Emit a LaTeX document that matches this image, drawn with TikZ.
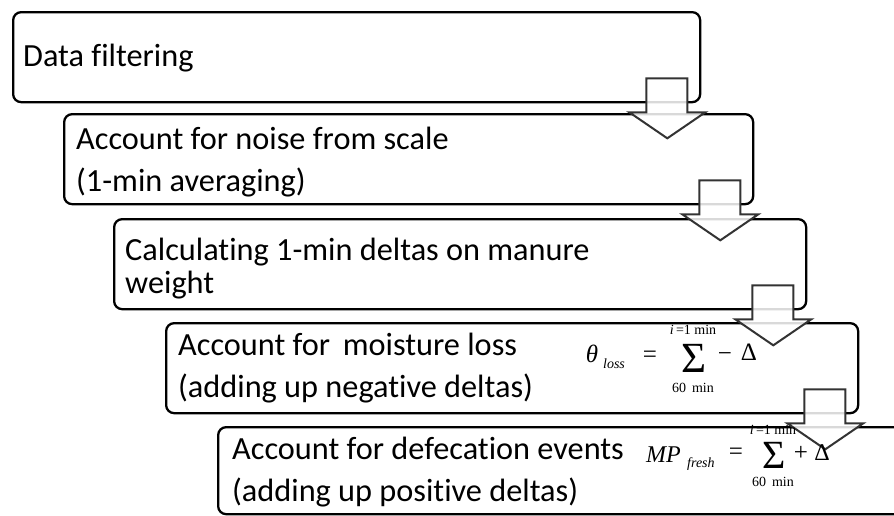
\documentclass[tikz,border=0pt]{standalone}
\usepackage{fontspec}
\setmainfont{Carlito}[Ligatures=NoCommon]
\newfontfamily\tms{Liberation Serif}
\usetikzlibrary{calc}
\tikzset{
  stepbox/.style={draw=black, line width=2.3pt, rounded corners=8pt, inner sep=0pt, anchor=north west},
  steptext/.style={anchor=base west, inner sep=0pt, font=\fontsize{32.3}{38}\selectfont},
  blockarrow/.style={draw=black!80, line width=2pt, fill=white, fill opacity=0.85, line join=miter},
  eqbig/.style={inner sep=0pt, font=\tms\fontsize{25}{30}\selectfont},
  eqsub/.style={inner sep=0pt, font=\tms\fontsize{14}{16}\selectfont},
  eqsum/.style={inner sep=0pt, font=\tms\fontsize{43}{46}\selectfont}
}
\newcommand\stepdown[1]{%
  \draw[blockarrow] ($(#1.south east)+(-55,-25)$) -- ($(#1.south east)+(-14,-25)$)
    -- ($(#1.south east)+(-14,9)$) -- ($(#1.south east)+(4,9)$)
    -- ($(#1.south east)+(-34,35)$) -- ($(#1.south east)+(-72,9)$)
    -- ($(#1.south east)+(-55,9)$) -- cycle;}
\begin{document}
\begin{tikzpicture}[x=1pt,y=-1pt]
\useasboundingbox (0,0) rectangle (894,515);
\clip (0,0) rectangle (894,515);
\fill[white] (0,0) rectangle (894,515);
% boxes
\node[stepbox, minimum width=687pt, minimum height=90pt] (b1) at (12,11) {};
\node[stepbox, minimum width=689pt, minimum height=90pt] (b2) at (63,113) {};
\stepdown{b1}
\node[stepbox, minimum width=692pt, minimum height=90pt] (b3) at (113,218) {};
\stepdown{b2}
\node[stepbox, minimum width=692pt, minimum height=90pt] (b4) at (165,322) {};
\stepdown{b3}
\node[stepbox, minimum width=692pt, minimum height=87pt] (b5) at (217,426) {};
\stepdown{b4}
% texts
\node[steptext] (t1) at (23,66) {Data filtering};
\node[steptext] (t2a) at (76,149) {Account for noise from scale};
\node[steptext] (t2b) at (76,191) {(1-min averaging)};
\node[steptext] (t3a) at (125,260) {Calculating 1-min deltas on manure};
\node[steptext] (t3b) at (125,293) {weight};
\node[steptext] (t4a) at (178,355) {Account for\, moisture loss};
\node[steptext] (t4b) at (178,397) {(adding up negative deltas)};
\node[steptext] (t5a) at (232,459) {Account for defecation events};
\node[steptext] (t5b) at (232,501) {(adding up positive deltas)};
% equation 1
\node[eqbig, anchor=base] (th) at (592,362) {\itshape θ};
\node[eqsub, anchor=base] (thsub) at (614,368) {\itshape loss};
\node[eqbig, anchor=center] (eq1) at (650,357) {=};
\node[eqsum, anchor=base] (s1) at (694,372) {Σ};
\node[eqsub, anchor=base] (s1up) at (693,334) {\textit{i}\,=1 min};
\node[eqsub, anchor=base] (s1dn) at (693,392) {60\, min};
\node[eqbig, anchor=center] (m1) at (725,357) {−};
\node[eqbig, anchor=base] (d1) at (749,360) {Δ};
% equation 2
\node[eqbig, anchor=base west, font=\tms\fontsize{24}{28}\selectfont] (mp) at (646,462) {\itshape MP};
\node[eqsub, anchor=base west] (mpsub) at (687,467) {\itshape fresh};
\node[eqbig, anchor=center] (eq2) at (736,454) {=};
\node[eqsum, anchor=base, font=\tms\fontsize{40}{44}\selectfont] (s2) at (774,468) {Σ};
\node[eqsub, anchor=base] (s2up) at (773,434) {\textit{i}\,=1 min};
\node[eqsub, anchor=base] (s2dn) at (773,486) {60\, min};
\node[eqbig, anchor=center] (p2) at (801,453) {+};
\node[eqbig, anchor=base, font=\tms\fontsize{24}{28}\selectfont] (d2) at (822,460) {Δ};
\end{tikzpicture}
\end{document}
